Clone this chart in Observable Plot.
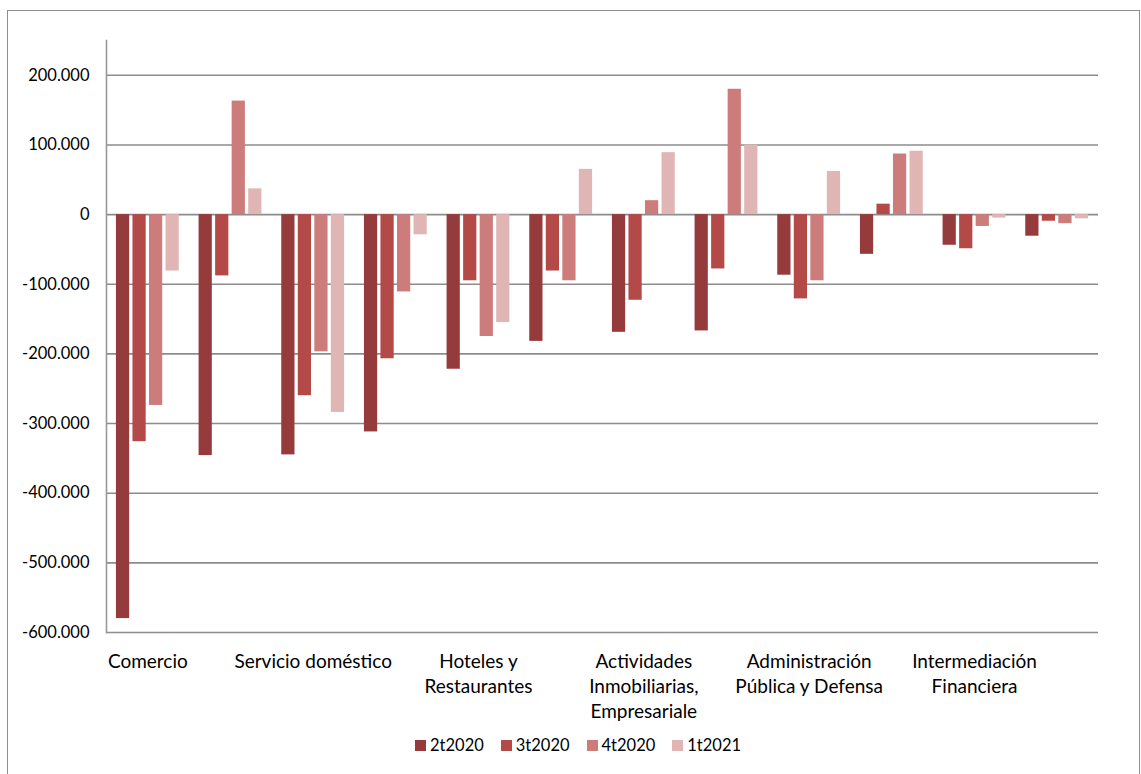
<!DOCTYPE html>
<html>
<head>
<meta charset="utf-8">
<script src="https://cdn.jsdelivr.net/npm/d3@7"></script>
<script src="https://cdn.jsdelivr.net/npm/@observablehq/plot@0.6"></script>
<style>
  html, body { margin: 0; padding: 0; background: #fff; }
  body { width: 1141px; height: 774px; position: relative; overflow: hidden; font-family: Lato, sans-serif; }
  #frame { position: absolute; left: 7px; top: 10px; width: 1133px; height: 790px; border: 1px solid #8f8f8f; box-sizing: border-box; }
  #chart { position: absolute; left: 0; top: 0; width: 1141px; height: 730px; }
  #chart svg { position: absolute; left: 0; top: 0; }
  #legend { position: absolute; left: 415px; top: 735px; display: flex; align-items: center; font-size: 16.5px; color: #000; }
  #legend .item { display: flex; align-items: center; margin-right: 17px; }
  #legend .sw { width: 11px; height: 11px; margin-right: 4px; }
</style>
</head>
<body>
<div id="frame"></div>
<div id="chart"></div>
<div id="legend"></div>
<script>
// Category labels (only every other category label is displayed in the original chart)
const categoryLabels = [
  "Comercio", "",
  "Servicio doméstico", "",
  "Hoteles y\nRestaurantes", "",
  "Actividades\nInmobiliarias,\nEmpresariale", "",
  "Administración\nPública y Defensa", "",
  "Intermediación\nFinanciera", ""
];
const seriesNames = ["2t2020", "3t2020", "4t2020", "1t2021"];
const seriesColors = ["#963b3b", "#b34a48", "#cb7c7b", "#e0b6b5"];

const s2t2020 = [-580000, -346000, -345000, -312000, -222000, -182000, -169000, -167000, -87000, -57000, -44000, -31000];
const s3t2020 = [-326000, -88000, -260000, -207000, -95000, -81000, -123000, -78000, -121000, 15000, -49000, -9500];
const s4t2020 = [-274000, 163000, -197000, -111000, -175000, -95000, 20000, 180000, -95000, 87000, -17000, -13000];
const s1t2021 = [-81000, 37000, -284000, -29000, -155000, 65000, 89000, 100000, 62000, 91000, -5000, -6000];

const yTicks = [-600000, -500000, -400000, -300000, -200000, -100000, 0, 100000, 200000];

const seriesValues = [s2t2020, s3t2020, s4t2020, s1t2021];
const data = [];
categoryLabels.forEach((_, i) => {
  seriesNames.forEach((s, j) => data.push({cat: i, series: s, value: seriesValues[j][i]}));
});

const fmt = d3.formatLocale({decimal: ",", thousands: ".", grouping: [3], currency: ["", ""], minus: "-"}).format(",.0f");

const common = {
  width: 1141,
  height: 730,
  marginTop: 40,
  marginBottom: 98,
  marginLeft: 106,
  marginRight: 43,
  style: {fontFamily: "Lato, sans-serif", color: "#000", background: "transparent", overflow: "visible"},
  y: {domain: [-600000, 250000], label: null}
};

// Background layer: gridlines, value axis
const bg = Plot.plot({
  ...common,
  x: {domain: [0, 1], axis: null},
  marks: [
    Plot.ruleY(yTicks, {stroke: "#8c8c8c", strokeWidth: 1.6}),
    Plot.frame({anchor: "left", stroke: "#999", strokeWidth: 1.6}),
    Plot.axisY({ticks: yTicks, tickFormat: fmt, tickSize: 0, tickPadding: 17, fontSize: 16.5, label: null})
  ]
});

// Foreground layer: clustered bars and category axis
const fg = Plot.plot({
  ...common,
  fx: {domain: d3.range(categoryLabels.length), paddingInner: 0.2, paddingOuter: 0.1, round: false, label: null},
  x: {domain: seriesNames, paddingInner: 0.2, paddingOuter: 0.1, round: false, axis: null},
  y: {...common.y, axis: null},
  color: {domain: seriesNames, range: seriesColors},
  marks: [
    Plot.barY(data, {fx: "cat", x: "series", y: "value", fill: "series"}),
    Plot.axisFx({anchor: "bottom", tickSize: 0, tickPadding: 18, fontSize: 19, lineHeight: 1.32, tickFormat: i => categoryLabels[i], label: null})
  ]
});

const chartDiv = document.getElementById("chart");
chartDiv.appendChild(bg);
chartDiv.appendChild(fg);

const legend = document.getElementById("legend");
seriesNames.forEach((s, j) => {
  const item = document.createElement("div");
  item.className = "item";
  const sw = document.createElement("div");
  sw.className = "sw";
  sw.style.background = seriesColors[j];
  const t = document.createElement("span");
  t.textContent = s;
  item.appendChild(sw);
  item.appendChild(t);
  legend.appendChild(item);
});
</script>
</body>
</html>
